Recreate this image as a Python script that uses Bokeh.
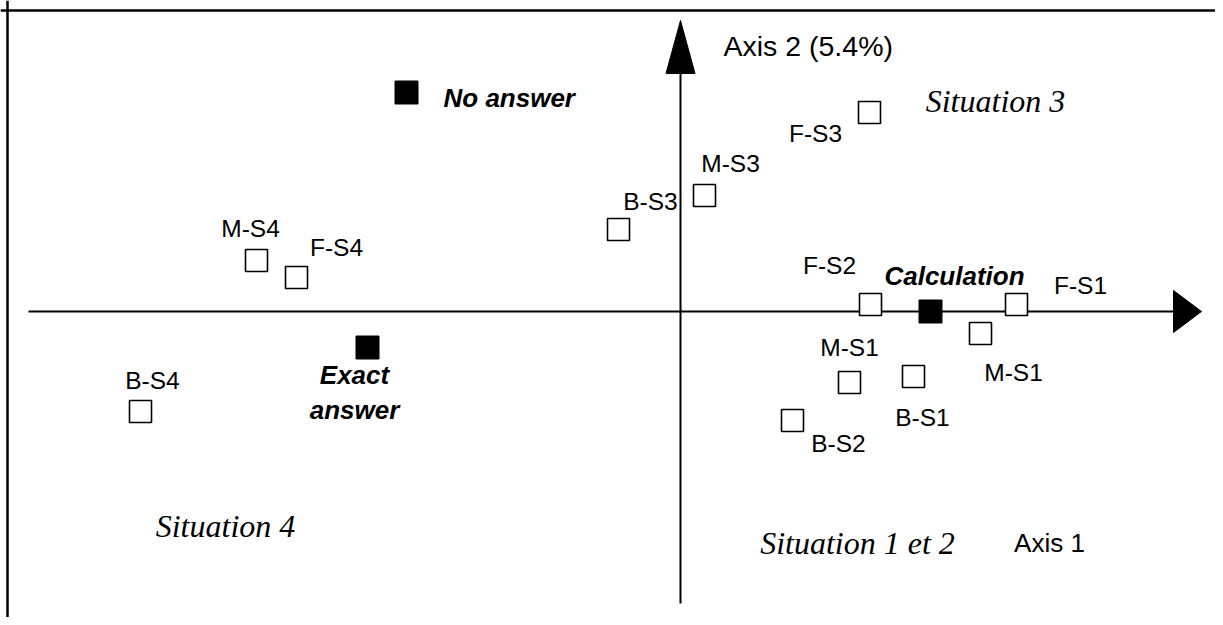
from bokeh.plotting import figure
from bokeh.models import ColumnDataSource, Span, Range1d
from bokeh.core.properties import value
from bokeh.embed import file_html
from bokeh.resources import INLINE

# ---- data: coordinates on axis 1 / axis 2 ----
open_labels = ["B-S3", "M-S3", "F-S3", "M-S4", "F-S4", "B-S4",
               "F-S2", "F-S1", "M-S1", "M-S1", "B-S1", "B-S2"]
open_x = [-0.62, 0.24, 1.89, -4.24, -3.84, -5.40, 1.90, 3.36, 3.00, 1.69, 2.33, 1.12]
open_y = [0.82, 1.16, 1.99, 0.51, 0.34, -1.00, 0.07, 0.07, -0.22, -0.71, -0.65, -1.09]

filled_labels = ["No answer", "Exact\nanswer", "Calculation"]
filled_x = [-2.74, -3.13, 2.50]
filled_y = [2.19, -0.36, 0.00]

# ---- label placement (screen pixels, relative to the marker) ----
open_dx = [32, 26, -54, -6, 40, 12, -41, 64, 33, 0, 9, 46]
open_dy = [-28, -32, 21, -32, -30, -31, -39, -19, 39, -35, 41, 23]
filled_dx = [37, -13, 24]
filled_dy = [5, 45, -36]
filled_align = ["left", "center", "center"]

W, H = 1215, 617
p = figure(width=W, height=H, output_backend="svg", toolbar_location=None,
           x_range=Range1d(-6.80, 5.35), y_range=Range1d(-3.06, 3.11),
           min_border=0, outline_line_color=None)
p.axis.visible = False
p.grid.visible = False
p.background_fill_color = "white"
p.border_fill_color = "white"

# frame (top and left edges visible in the reference)
p.add_layout(Span(location=3.01, dimension="width", line_color="black", line_width=2.5))
p.add_layout(Span(location=-6.73, dimension="height", line_color="black", line_width=2.5))

# axes with arrow heads
p.line([-6.52, 4.95], [0, 0], line_color="black", line_width=2)
p.patch([4.93, 5.21, 4.93], [0.21, 0.0, -0.21], fill_color="black", line_color="black")
p.line([0, 0], [-2.92, 2.40], line_color="black", line_width=2)
p.patch([-0.145, 0.0, 0.145], [2.38, 2.91, 2.38], fill_color="black", line_color="black")

osrc = ColumnDataSource(dict(x=open_x, y=open_y, t=open_labels, dx=open_dx, dy=open_dy))
fsrc = ColumnDataSource(dict(x=filled_x, y=filled_y, t=filled_labels,
                             dx=filled_dx, dy=filled_dy, al=filled_align))

p.scatter("x", "y", source=osrc, marker="square", size=22,
          fill_color="white", line_color="black", line_width=1.6)
p.scatter("x", "y", source=fsrc, marker="square", size=23,
          fill_color="black", line_color="black")

p.text("x", "y", text="t", source=osrc, x_offset="dx", y_offset="dy",
       text_align="center", text_baseline="middle",
       text_font=value("Liberation Sans"), text_font_size="24.5px", text_color="black")
p.text("x", "y", text="t", source=fsrc, x_offset="dx", y_offset="dy",
       text_align="al", text_baseline="middle", text_line_height=1.15,
       text_font=value("Liberation Sans"), text_font_size="26px",
       text_font_style="bold italic", text_color="black")

# axis titles and region names
p.text([0.43], [2.66], text=["Axis 2 (5.4%)"], text_align="left", text_baseline="middle",
       text_font=value("Liberation Sans"), text_font_size="28.5px", text_color="black")
p.text([3.69], [-2.31], text=["Axis 1"], text_align="center", text_baseline="middle",
       text_font=value("Liberation Sans"), text_font_size="26px", text_color="black")
p.text([3.15, -4.55, 1.77], [2.11, -2.14, -2.31],
       text=["Situation 3", "Situation 4", "Situation 1 et 2"],
       text_align="center", text_baseline="middle",
       text_font=value("Liberation Serif"), text_font_size="32px",
       text_font_style="italic", text_color="black")

open("out.html", "w").write(file_html(p, INLINE))
